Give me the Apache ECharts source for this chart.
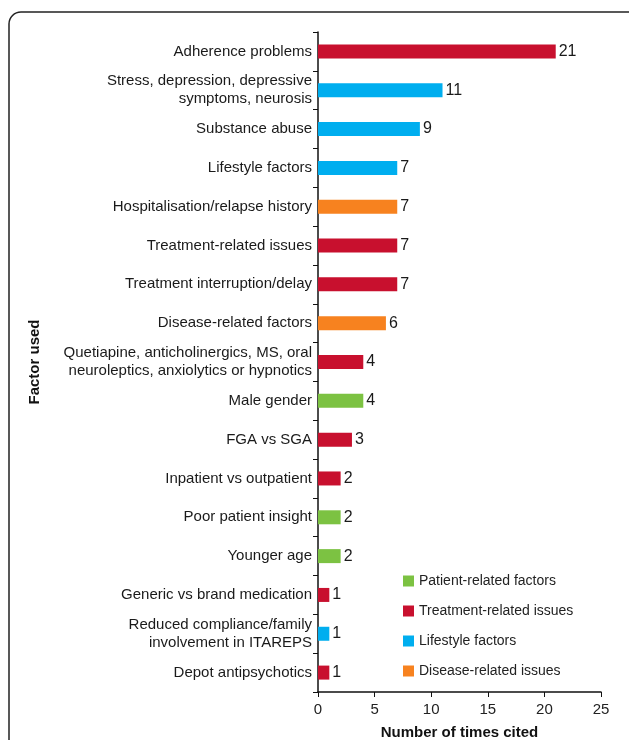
<!DOCTYPE html>
<html>
<head>
<meta charset="utf-8">
<script src="https://cdn.jsdelivr.net/npm/echarts@6/dist/echarts.min.js"></script>
<style>
  html, body { margin: 0; padding: 0; background: #fff; }
  #chart { width: 629px; height: 740px; }
</style>
</head>
<body>
<div id="chart"></div>
<script>
// factors, top to bottom
var factors = [
  'Adherence problems',
  'Stress, depression, depressive\nsymptoms, neurosis',
  'Substance abuse',
  'Lifestyle factors',
  'Hospitalisation/relapse history',
  'Treatment-related issues',
  'Treatment interruption/delay',
  'Disease-related factors',
  'Quetiapine, anticholinergics, MS, oral\nneuroleptics, anxiolytics or hypnotics',
  'Male gender',
  'FGA vs SGA',
  'Inpatient vs outpatient',
  'Poor patient insight',
  'Younger age',
  'Generic vs brand medication',
  'Reduced compliance/family\ninvolvement in ITAREPS',
  'Depot antipsychotics'
];
var timesCited = [21, 11, 9, 7, 7, 7, 7, 6, 4, 4, 3, 2, 2, 2, 1, 1, 1];
// group index of each factor: 0 patient, 1 treatment, 2 lifestyle, 3 disease
var factorGroup = [1, 2, 2, 2, 3, 1, 1, 3, 1, 0, 1, 1, 0, 0, 1, 2, 1];

var groupNames = ['Patient-related factors', 'Treatment-related issues', 'Lifestyle factors', 'Disease-related issues'];
var groupColors = ['#7cc242', '#c8102e', '#00aeef', '#f7821f'];
var xTicks = [0, 5, 10, 15, 20, 25];

var chart = echarts.init(document.getElementById('chart'));

var series = groupNames.map(function (name, g) {
  return {
    name: name,
    type: 'bar',
    barWidth: 14,
    barGap: '-100%',
    itemStyle: { color: groupColors[g] },
    label: {
      show: true,
      position: 'right',
      distance: 3,
      color: '#1a1a1a',
      fontSize: 16,
      fontFamily: 'Liberation Sans'
    },
    data: timesCited.map(function (v, i) { return factorGroup[i] === g ? v : '-'; })
  };
});

chart.setOption({
  animation: false,
  textStyle: { fontFamily: 'Liberation Sans' },
  graphic: [{
    type: 'rect',
    shape: { x: 9, y: 12, width: 640, height: 760, r: 12 },
    style: { fill: 'none', stroke: '#222', lineWidth: 1.5 },
    silent: true
  }],
  grid: { left: 318, right: 28, top: 32, bottom: 48, containLabel: false, outerBoundsMode: 'none' },
  legend: {
    orient: 'vertical',
    left: 398,
    top: 569,
    itemWidth: 11,
    itemHeight: 11,
    itemGap: 16,
    icon: 'rect',
    data: groupNames,
    textStyle: { fontSize: 14, lineHeight: 14, color: '#222', fontFamily: 'Liberation Sans' }
  },
  xAxis: {
    type: 'value',
    min: xTicks[0],
    max: xTicks[xTicks.length - 1],
    interval: 5,
    name: 'Number of times cited',
    nameLocation: 'middle',
    nameGap: 33,
    nameTextStyle: { fontSize: 15, fontWeight: 'bold', color: '#111' },
    axisLine: { show: true, lineStyle: { color: '#111', width: 1.5 } },
    axisTick: { show: true, length: 5, lineStyle: { color: '#111' } },
    axisLabel: { fontSize: 15, color: '#222', margin: 10 },
    splitLine: { show: false }
  },
  yAxis: {
    type: 'category',
    inverse: true,
    data: factors,
    name: 'Factor used',
    nameLocation: 'middle',
    nameGap: 276,
    nameRotate: 90,
    nameTextStyle: { fontSize: 15, fontWeight: 'bold', color: '#111' },
    axisLine: { show: true, lineStyle: { color: '#111', width: 1.5 } },
    axisTick: { show: true, length: 5, lineStyle: { color: '#111' } },
    axisLabel: { fontSize: 15, color: '#1a1a1a', margin: 6, lineHeight: 18, align: 'right' }
  },
  series: series
});
</script>
</body>
</html>
